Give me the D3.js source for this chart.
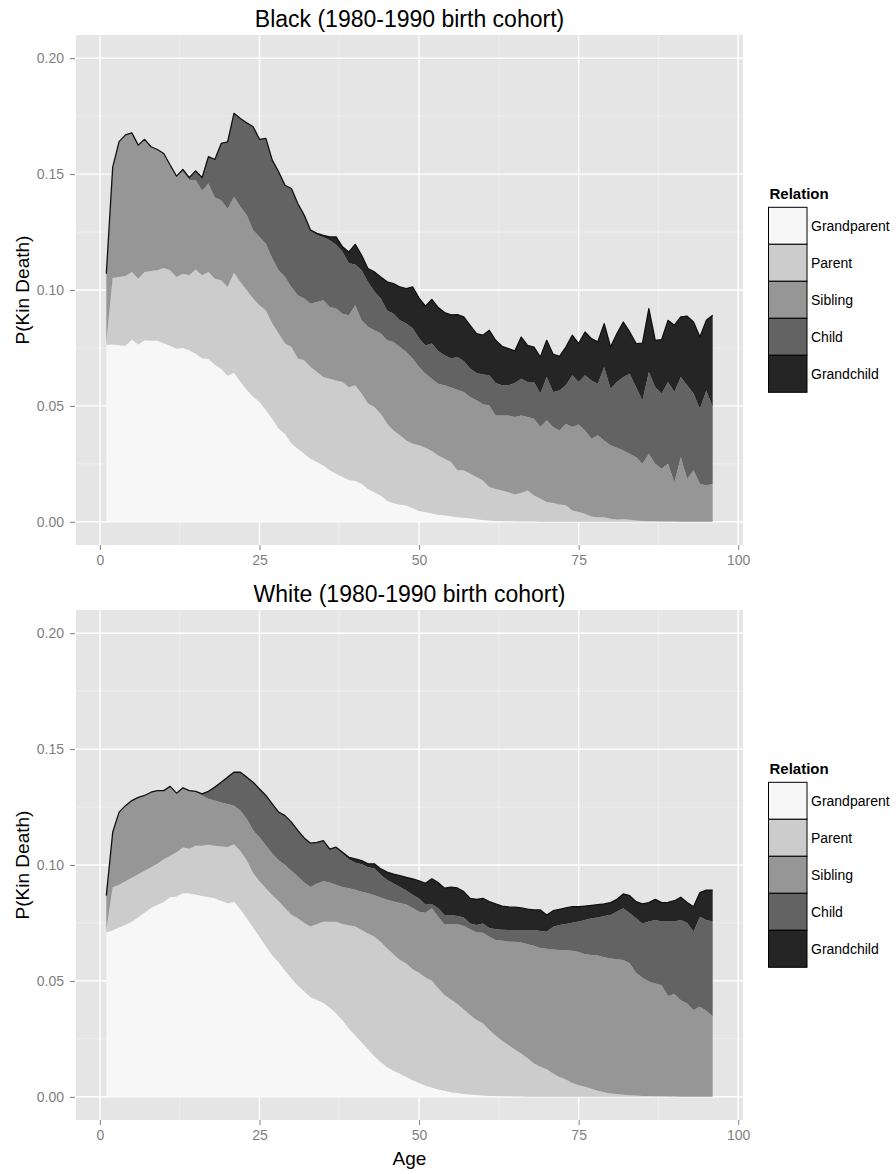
<!DOCTYPE html>
<html>
<head>
<meta charset="utf-8">
<script src="https://cdn.jsdelivr.net/npm/d3@7"></script>
<style>
  body { margin: 0; background: #ffffff; }
  svg { display: block; }
  text { font-family: "Liberation Sans", Arial, Helvetica, sans-serif; }
</style>
</head>
<body>
<svg id="chart" width="896" height="1174"></svg>
<script>
// ---------------- DATA ----------------
const ages = [
  1,2,3,4,5,6,7,8,9,10,11,12,13,14,15,16,17,18,19,20,
  21,22,23,24,25,26,27,28,29,30,31,32,33,34,35,36,37,38,39,40,
  41,42,43,44,45,46,47,48,49,50,51,52,53,54,55,56,57,58,59,60,
  61,62,63,64,65,66,67,68,69,70,71,72,73,74,75,76,77,78,79,80,
  81,82,83,84,85,86,87,88,89,90,91,92,93,94,95,96
];
const relations = ["Grandparent", "Parent", "Sibling", "Child", "Grandchild"];
const relationColors = ["#f7f7f7", "#cccccc", "#969696", "#636363", "#252525"];
const panelTitles = ["Black (1980-1990 birth cohort)", "White (1980-1990 birth cohort)"];
const xTicks = [0, 25, 50, 75, 100];
const xMinorTicks = [12.5, 37.5, 62.5, 87.5];
const yTicks = [0, 0.05, 0.10, 0.15, 0.20];
const yMinorTicks = [0.025, 0.075, 0.125, 0.175];

// Black cohort
const blackGrandparent = [
  0.0764,0.0765,0.0762,0.0760,0.0786,0.0765,0.0783,0.0782,0.0781,0.0770,
  0.0760,0.0747,0.0750,0.0740,0.0725,0.0706,0.0702,0.0678,0.0660,0.0630,
  0.0643,0.0605,0.0570,0.0540,0.0517,0.0482,0.0445,0.0402,0.0380,0.0338,
  0.0315,0.0294,0.0272,0.0258,0.0243,0.0222,0.0207,0.0193,0.0180,0.0176,
  0.0164,0.0142,0.0128,0.0114,0.0090,0.0080,0.0075,0.0070,0.0058,0.0047,
  0.0042,0.0036,0.0031,0.0028,0.0024,0.0020,0.0018,0.0015,0.0011,0.0008,
  0.0006,0.0004,0.0003,0.0002,0.0002,0.0001,0.0001,0.0001,0,0,
  0,0,0,0,0,0,0,0,0,0,
  0,0,0,0,0,0,0,0,0,0,
  0,0,0,0,0,0
];
const blackParent = [
  0.0011,0.0287,0.0294,0.0300,0.0292,0.0284,0.0295,0.0300,0.0304,0.0325,
  0.0325,0.0309,0.0320,0.0324,0.0363,0.0358,0.0376,0.0371,0.0382,0.0383,
  0.0431,0.0430,0.0429,0.0423,0.0417,0.0430,0.0410,0.0410,0.0389,0.0416,
  0.0389,0.0403,0.0396,0.0388,0.0382,0.0395,0.0403,0.0410,0.0401,0.0413,
  0.0389,0.0368,0.0367,0.0352,0.0333,0.0314,0.0298,0.0281,0.0279,0.0283,
  0.0278,0.0269,0.0255,0.0244,0.0234,0.0202,0.0204,0.0192,0.0182,0.0170,
  0.0144,0.0138,0.0132,0.0126,0.0116,0.0123,0.0134,0.0113,0.0099,0.0085,
  0.0081,0.0075,0.0071,0.0049,0.0042,0.0035,0.0023,0.0020,0.0020,0.0013,
  0.0010,0.0011,0.0009,0.0006,0.0003,0.0002,0.0002,0.0001,0.0001,0.0001,
  0,0,0,0,0,0
];
const blackSibling = [
  0.0295,0.0478,0.0584,0.0609,0.0600,0.0576,0.0572,0.0536,0.0521,0.0494,
  0.0454,0.0435,0.0440,0.0411,0.0386,0.0364,0.0381,0.0350,0.0345,0.0338,
  0.0328,0.0324,0.0324,0.0295,0.0295,0.0288,0.0281,0.0273,0.0287,0.0259,
  0.0273,0.0266,0.0273,0.0302,0.0331,0.0310,0.0310,0.0295,0.0310,0.0345,
  0.0316,0.0331,0.0331,0.0346,0.0360,0.0382,0.0381,0.0382,0.0367,0.0338,
  0.0319,0.0312,0.0310,0.0317,0.0321,0.0348,0.0338,0.0331,0.0331,0.0329,
  0.0352,0.0317,0.0324,0.0331,0.0334,0.0335,0.0317,0.0331,0.0310,0.0353,
  0.0328,0.0319,0.0352,0.0360,0.0378,0.0359,0.0335,0.0353,0.0331,0.0317,
  0.0310,0.0297,0.0285,0.0273,0.0247,0.0292,0.0248,0.0228,0.0249,0.0170,
  0.0279,0.0186,0.0222,0.0164,0.0157,0.0164
];
const blackChild = [
  0,0,0,0,0,0,0,0,0,0,
  0,0,0.0010,0.0010,0.0040,0.0057,0.0116,0.0164,0.0245,0.0288,
  0.0360,0.0381,0.0398,0.0446,0.0421,0.0454,0.0424,0.0425,0.0396,0.0425,
  0.0396,0.0360,0.0314,0.0289,0.0272,0.0288,0.0275,0.0267,0.0224,0.0176,
  0.0216,0.0194,0.0168,0.0151,0.0129,0.0122,0.0115,0.0122,0.0131,0.0124,
  0.0122,0.0152,0.0141,0.0129,0.0125,0.0141,0.0134,0.0123,0.0118,0.0129,
  0.0130,0.0140,0.0130,0.0130,0.0147,0.0158,0.0151,0.0158,0.0144,0.0187,
  0.0151,0.0173,0.0166,0.0223,0.0183,0.0238,0.0252,0.0223,0.0317,0.0244,
  0.0283,0.0317,0.0345,0.0302,0.0274,0.0352,0.0331,0.0324,0.0353,0.0389,
  0.0346,0.0403,0.0331,0.0324,0.0410,0.0331
];
const blackGrandchild = [
  0,0,0,0,0,0,0,0,0,0,
  0,0,0,0,0,0,0,0,0,0,
  0,0,0,0,0,0,0,0,0,0,
  0,0,0.0003,0.0007,0.0008,0.0014,0.0034,0.0021,0.0049,0.0087,
  0.0065,0.0057,0.0084,0.0093,0.0123,0.0130,0.0144,0.0151,0.0178,0.0173,
  0.0169,0.0190,0.0187,0.0185,0.0189,0.0183,0.0190,0.0186,0.0170,0.0169,
  0.0194,0.0184,0.0168,0.0158,0.0138,0.0180,0.0158,0.0151,0.0158,0.0158,
  0.0163,0.0147,0.0165,0.0173,0.0166,0.0187,0.0180,0.0180,0.0187,0.0180,
  0.0209,0.0237,0.0180,0.0188,0.0247,0.0274,0.0202,0.0233,0.0266,0.0288,
  0.0259,0.0298,0.0309,0.0309,0.0302,0.0396
];

// White cohort
const whiteGrandparent = [
  0.0710,0.0718,0.0730,0.0742,0.0755,0.0775,0.0795,0.0815,0.0828,0.0840,
  0.0862,0.0864,0.0878,0.0878,0.0873,0.0866,0.0862,0.0857,0.0846,0.0835,
  0.0842,0.0810,0.0770,0.0730,0.0690,0.0650,0.0610,0.0580,0.0545,0.0510,
  0.0480,0.0455,0.0430,0.0418,0.0405,0.0385,0.0360,0.0330,0.0295,0.0265,
  0.0235,0.0205,0.0175,0.0150,0.0128,0.0112,0.0100,0.0085,0.0072,0.0060,
  0.0048,0.0040,0.0032,0.0026,0.0020,0.0016,0.0012,0.0010,0.0008,0.0006,
  0.0004,0.0003,0.0002,0.0002,0.0001,0.0001,0,0,0,0,
  0,0,0,0,0,0,0,0,0,0,
  0,0,0,0,0,0,0,0,0,0,
  0,0,0,0,0,0
];
const whiteParent = [
  0.0010,0.0186,0.0185,0.0188,0.0190,0.0185,0.0180,0.0175,0.0177,0.0185,
  0.0178,0.0191,0.0197,0.0192,0.0210,0.0217,0.0225,0.0226,0.0234,0.0243,
  0.0248,0.0250,0.0250,0.0235,0.0240,0.0250,0.0260,0.0265,0.0270,0.0275,
  0.0290,0.0295,0.0305,0.0327,0.0350,0.0370,0.0395,0.0415,0.0445,0.0470,
  0.0485,0.0500,0.0515,0.0518,0.0512,0.0503,0.0490,0.0490,0.0478,0.0475,
  0.0467,0.0461,0.0436,0.0412,0.0400,0.0384,0.0365,0.0343,0.0323,0.0311,
  0.0284,0.0262,0.0240,0.0221,0.0203,0.0186,0.0166,0.0144,0.0130,0.0119,
  0.0101,0.0086,0.0075,0.0060,0.0050,0.0043,0.0035,0.0026,0.0020,0.0014,
  0.0012,0.0009,0.0007,0.0006,0.0004,0.0003,0.0002,0.0002,0.0001,0.0001,
  0,0,0,0,0,0
];
const whiteSibling = [
  0.0148,0.0237,0.0313,0.0326,0.0333,0.0332,0.0325,0.0324,0.0316,0.0296,
  0.0299,0.0255,0.0258,0.0251,0.0235,0.0217,0.0198,0.0195,0.0190,0.0185,
  0.0166,0.0175,0.0180,0.0185,0.0190,0.0185,0.0180,0.0175,0.0185,0.0190,
  0.0180,0.0175,0.0170,0.0175,0.0175,0.0170,0.0160,0.0160,0.0160,0.0158,
  0.0165,0.0173,0.0180,0.0192,0.0210,0.0228,0.0246,0.0255,0.0265,0.0263,
  0.0279,0.0312,0.0309,0.0305,0.0326,0.0346,0.0360,0.0370,0.0379,0.0391,
  0.0403,0.0411,0.0432,0.0446,0.0465,0.0479,0.0492,0.0508,0.0512,0.0520,
  0.0534,0.0547,0.0558,0.0570,0.0575,0.0572,0.0577,0.0584,0.0582,0.0583,
  0.0581,0.0581,0.0569,0.0529,0.0510,0.0494,0.0487,0.0479,0.0434,0.0442,
  0.0417,0.0403,0.0374,0.0389,0.0371,0.0348
];
const whiteChild = [
  0,0,0,0,0,0,0,0,0,0,
  0,0,0,0,0,0.0007,0.0033,0.0058,0.0087,0.0116,
  0.0144,0.0165,0.0179,0.0207,0.0208,0.0215,0.0214,0.0208,0.0213,0.0210,
  0.0199,0.0192,0.0189,0.0178,0.0175,0.0144,0.0157,0.0143,0.0125,0.0117,
  0.0118,0.0112,0.0115,0.0098,0.0085,0.0077,0.0069,0.0060,0.0057,0.0057,
  0.0034,0.0019,0.0036,0.0041,0.0038,0.0034,0.0037,0.0025,0.0031,0.0040,
  0.0037,0.0047,0.0047,0.0051,0.0051,0.0054,0.0062,0.0068,0.0073,0.0073,
  0.0099,0.0108,0.0113,0.0121,0.0131,0.0148,0.0158,0.0164,0.0178,0.0187,
  0.0206,0.0223,0.0216,0.0235,0.0234,0.0259,0.0274,0.0275,0.0321,0.0313,
  0.0346,0.0348,0.0338,0.0388,0.0392,0.0408
];
const whiteGrandchild = [
  0,0,0,0,0,0,0,0,0,0,
  0,0,0,0,0,0,0,0,0,0,
  0,0,0,0,0,0,0,0,0,0,
  0,0,0,0,0,0,0.0005,0.0007,0.0008,0.0016,
  0.0016,0.0015,0.0020,0.0025,0.0034,0.0041,0.0049,0.0057,0.0068,0.0077,
  0.0093,0.0108,0.0111,0.0116,0.0120,0.0121,0.0111,0.0108,0.0111,0.0108,
  0.0114,0.0109,0.0102,0.0099,0.0098,0.0095,0.0090,0.0086,0.0091,0.0072,
  0.0069,0.0068,0.0069,0.0069,0.0064,0.0060,0.0056,0.0055,0.0052,0.0054,
  0.0053,0.0062,0.0076,0.0072,0.0084,0.0082,0.0089,0.0082,0.0083,0.0090,
  0.0098,0.0087,0.0108,0.0104,0.0129,0.0136
];

const panelSeries = [
  [blackGrandparent, blackParent, blackSibling, blackChild, blackGrandchild],
  [whiteGrandparent, whiteParent, whiteSibling, whiteChild, whiteGrandchild]
];

// ---------------- LAYOUT ----------------
const svg = d3.select("#chart");
const panelLeft = 76, panelRight = 743;
const panelTopOffsets = [35, 610];
const panelHeight = 510;
const FONT = '"Liberation Sans", Arial, Helvetica, sans-serif';

const x = d3.scaleLinear().domain([-3.75, 100.75]).range([panelLeft, panelRight]);

panelSeries.forEach((series, pi) => {
  const top = panelTopOffsets[pi];
  const bottom = top + panelHeight;
  const y = d3.scaleLinear().domain([-0.01, 0.21]).range([bottom, top]);
  const g = svg.append("g");

  // panel background
  g.append("rect")
    .attr("x", panelLeft).attr("y", top)
    .attr("width", panelRight - panelLeft).attr("height", panelHeight)
    .attr("fill", "#e5e5e5");

  // minor grid
  g.selectAll(".xminor").data(xMinorTicks).enter().append("line")
    .attr("x1", d => x(d)).attr("x2", d => x(d))
    .attr("y1", top).attr("y2", bottom)
    .attr("stroke", "#f2f2f2").attr("stroke-width", 0.7);
  g.selectAll(".yminor").data(yMinorTicks).enter().append("line")
    .attr("y1", d => y(d)).attr("y2", d => y(d))
    .attr("x1", panelLeft).attr("x2", panelRight)
    .attr("stroke", "#f2f2f2").attr("stroke-width", 0.7);
  // major grid
  g.selectAll(".xmajor").data(xTicks).enter().append("line")
    .attr("x1", d => x(d)).attr("x2", d => x(d))
    .attr("y1", top).attr("y2", bottom)
    .attr("stroke", "#ffffff").attr("stroke-width", 1.4);
  g.selectAll(".ymajor").data(yTicks).enter().append("line")
    .attr("y1", d => y(d)).attr("y2", d => y(d))
    .attr("x1", panelLeft).attr("x2", panelRight)
    .attr("stroke", "#ffffff").attr("stroke-width", 1.4);

  // stacked areas
  const rows = ages.map((a, i) => {
    const r = { age: a };
    relations.forEach((rel, k) => { r[rel] = series[k][i]; });
    return r;
  });
  const stacked = d3.stack().keys(relations)(rows);
  const area = d3.area()
    .x(d => x(d.data.age))
    .y0(d => y(d[0]))
    .y1(d => y(d[1]));
  g.selectAll(".layer").data(stacked).enter().append("path")
    .attr("d", area)
    .attr("fill", (d, k) => relationColors[k])
    .attr("stroke", "none");

  // outline of the stack top
  const topLayer = stacked[stacked.length - 1];
  const line = d3.line().x(d => x(d.data.age)).y(d => y(d[1]));
  g.append("path").datum(topLayer)
    .attr("d", line)
    .attr("fill", "none")
    .attr("stroke", "#111111")
    .attr("stroke-width", 1.3)
    .attr("stroke-linejoin", "round");

  // x axis
  const xAxis = d3.axisBottom(x).tickValues(xTicks).tickSize(5).tickPadding(5)
    .tickFormat(d3.format("d"));
  const gx = g.append("g").attr("transform", `translate(0,${bottom})`).call(xAxis);
  gx.select(".domain").remove();
  gx.selectAll(".tick line").attr("stroke", "#7f7f7f").attr("stroke-width", 1);
  gx.selectAll(".tick text").attr("fill", "#7f7f7f")
    .style("font-family", FONT).style("font-size", "14px")
    .attr("dy", "0.71em");

  // y axis
  const yAxis = d3.axisLeft(y).tickValues(yTicks).tickSize(5).tickPadding(6)
    .tickFormat(d3.format(".2f"));
  const gy = g.append("g").attr("transform", `translate(${panelLeft - 1},0)`).call(yAxis);
  gy.select(".domain").remove();
  gy.selectAll(".tick line").attr("stroke", "#7f7f7f").attr("stroke-width", 1);
  gy.selectAll(".tick text").attr("fill", "#7f7f7f")
    .style("font-family", FONT).style("font-size", "14px");

  // title
  g.append("text")
    .attr("x", (panelLeft + panelRight) / 2).attr("y", top - 8.5)
    .attr("text-anchor", "middle")
    .style("font-size", "23px").attr("fill", "#000")
    .text(panelTitles[pi]);

  // y axis title
  g.append("text")
    .attr("transform", `translate(28.5,${(top + bottom) / 2}) rotate(-90)`)
    .attr("text-anchor", "middle")
    .style("font-size", "19px").attr("fill", "#000")
    .text("P(Kin Death)");

  // legend
  const lg = g.append("g").attr("transform", `translate(768.5,${top + 164})`);
  lg.append("text").attr("x", 1).attr("y", 0)
    .style("font-size", "15px").style("font-weight", "bold").attr("fill", "#000")
    .text("Relation");
  const keyH = 37, keyW = 38.5, keyTop = 8.3;
  const items = lg.selectAll(".item").data(relations).enter().append("g")
    .attr("transform", (d, k) => `translate(0,${keyTop + k * keyH})`);
  items.append("rect")
    .attr("x", 0).attr("y", 0).attr("width", keyW).attr("height", keyH)
    .attr("fill", (d, k) => relationColors[k])
    .attr("stroke", "#000").attr("stroke-width", 1);
  items.append("text")
    .attr("x", keyW + 4).attr("y", keyH / 2 + 5)
    .style("font-size", "14px").attr("fill", "#000")
    .text(d => d);

  if (pi === 1) {
    g.append("text")
      .attr("x", (panelLeft + panelRight) / 2).attr("y", 1165)
      .attr("text-anchor", "middle")
      .style("font-size", "19px").attr("fill", "#000")
      .text("Age");
  }
});
</script>
</body>
</html>
